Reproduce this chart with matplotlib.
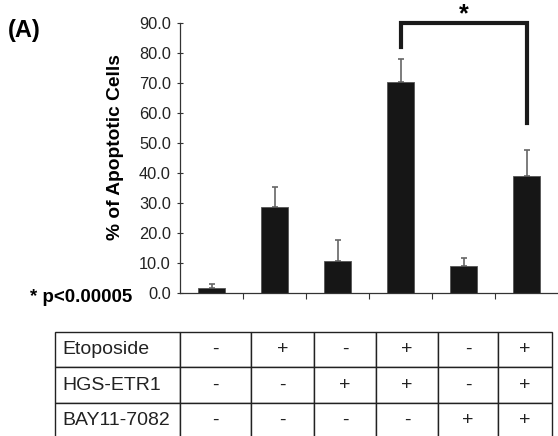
import matplotlib
matplotlib.use("Agg")
import matplotlib.pyplot as plt
import numpy as np

plt.rcParams['font.family'] = ['Liberation Sans', 'DejaVu Sans']

# Apoptosis data (% of apoptotic cells)
means = [1.7, 28.7, 10.7, 70.3, 9.0, 39.0]
errors = [1.2, 6.6, 7.0, 7.7, 2.7, 8.7]
yticks = [0, 10, 20, 30, 40, 50, 60, 70, 80, 90]

# treatment table
row_labels = ["Etoposide", "HGS-ETR1", "BAY11-7082"]
etoposide = ["-", "+", "-", "+", "-", "+"]
hgs_etr1 = ["-", "-", "+", "+", "-", "+"]
bay11 = ["-", "-", "-", "-", "+", "+"]

# significance bracket between bar 4 and bar 6
sig_pair = (3, 5)
sig_top = 90.0
sig_legs = (82.0, 56.7)

W, H = 558, 436
fig = plt.figure(figsize=(W / 100, H / 100), dpi=100)

ax = fig.add_axes([180 / W, 1 - 293 / H, 378 / W, 270 / H])
x = np.arange(len(means)) + 0.5
ax.bar(x, means, width=0.43, color='#161616', edgecolor='#555555', linewidth=0.6, zorder=2)
ax.errorbar(x, means, yerr=[np.zeros(len(errors)), errors], fmt='none',
            ecolor='#666666', elinewidth=1.2, capsize=2.5, capthick=1.2, zorder=1)

ax.set_xlim(0, len(means))
ax.set_ylim(0, 90)
ax.set_yticks(yticks)
ax.set_yticklabels([f"{v:.1f}" for v in yticks], fontsize=11.8, color='#222222')
ax.set_xticks(np.arange(1, len(means)))
ax.set_xticklabels([])
ax.tick_params(axis='y', direction='inout', length=5, width=0.8, pad=4, color='#333333')
ax.tick_params(axis='x', direction='out', length=4, width=0.8, color='#333333')
for s in ['top', 'right']:
    ax.spines[s].set_visible(False)
for s in ['left', 'bottom']:
    ax.spines[s].set_color('#333333')
    ax.spines[s].set_linewidth(0.9)

ax.set_ylabel("% of Apoptotic Cells", fontsize=13.8, fontweight='bold')
ax.yaxis.set_label_coords(-0.148, 0.54)

# bracket
xa, xb = x[sig_pair[0]], x[sig_pair[1]]
ax.plot([xa, xa, xb, xb], [sig_legs[0], sig_top, sig_top, sig_legs[1]],
        color='#1a1a1a', linewidth=3, solid_joinstyle='miter', clip_on=False)
ax.text((xa + xb) / 2, sig_top + 0.6, "*", ha='center', va='baseline',
        fontsize=18, fontweight='bold', clip_on=False)

fig.text(8 / W, 1 - 31 / H, "(A)", fontsize=17, fontweight='bold', va='center', ha='left')
fig.text(132 / W, 1 - 297 / H, "* p<0.00005", fontsize=13.5, fontweight='bold',
         va='center', ha='right')

# table below
tax = fig.add_axes([55 / W, 0, (552 - 55) / W, (436 - 332) / H])
tax.axis('off')
edges = np.array([55, 180, 251, 314, 376, 438, 498, 552], dtype=float)
widths = np.diff(edges) / (edges[-1] - edges[0])
cells = [[lab] + vals for lab, vals in zip(row_labels, [etoposide, hgs_etr1, bay11])]
tbl = tax.table(cellText=cells, colWidths=list(widths), cellLoc='center',
                bbox=[0, -0.02, 1, 1.02])
tbl.auto_set_font_size(False)
for (r, c), cell in tbl.get_celld().items():
    cell.set_linewidth(1.0)
    cell.set_edgecolor('#222222')
    cell.get_text().set_fontsize(14)
    cell.get_text().set_color('#222222')
    if c == 0:
        cell._loc = 'left'
        cell.PAD = 0.06
        cell.get_text().set_ha('left')

fig.savefig("out.png", dpi=100)
